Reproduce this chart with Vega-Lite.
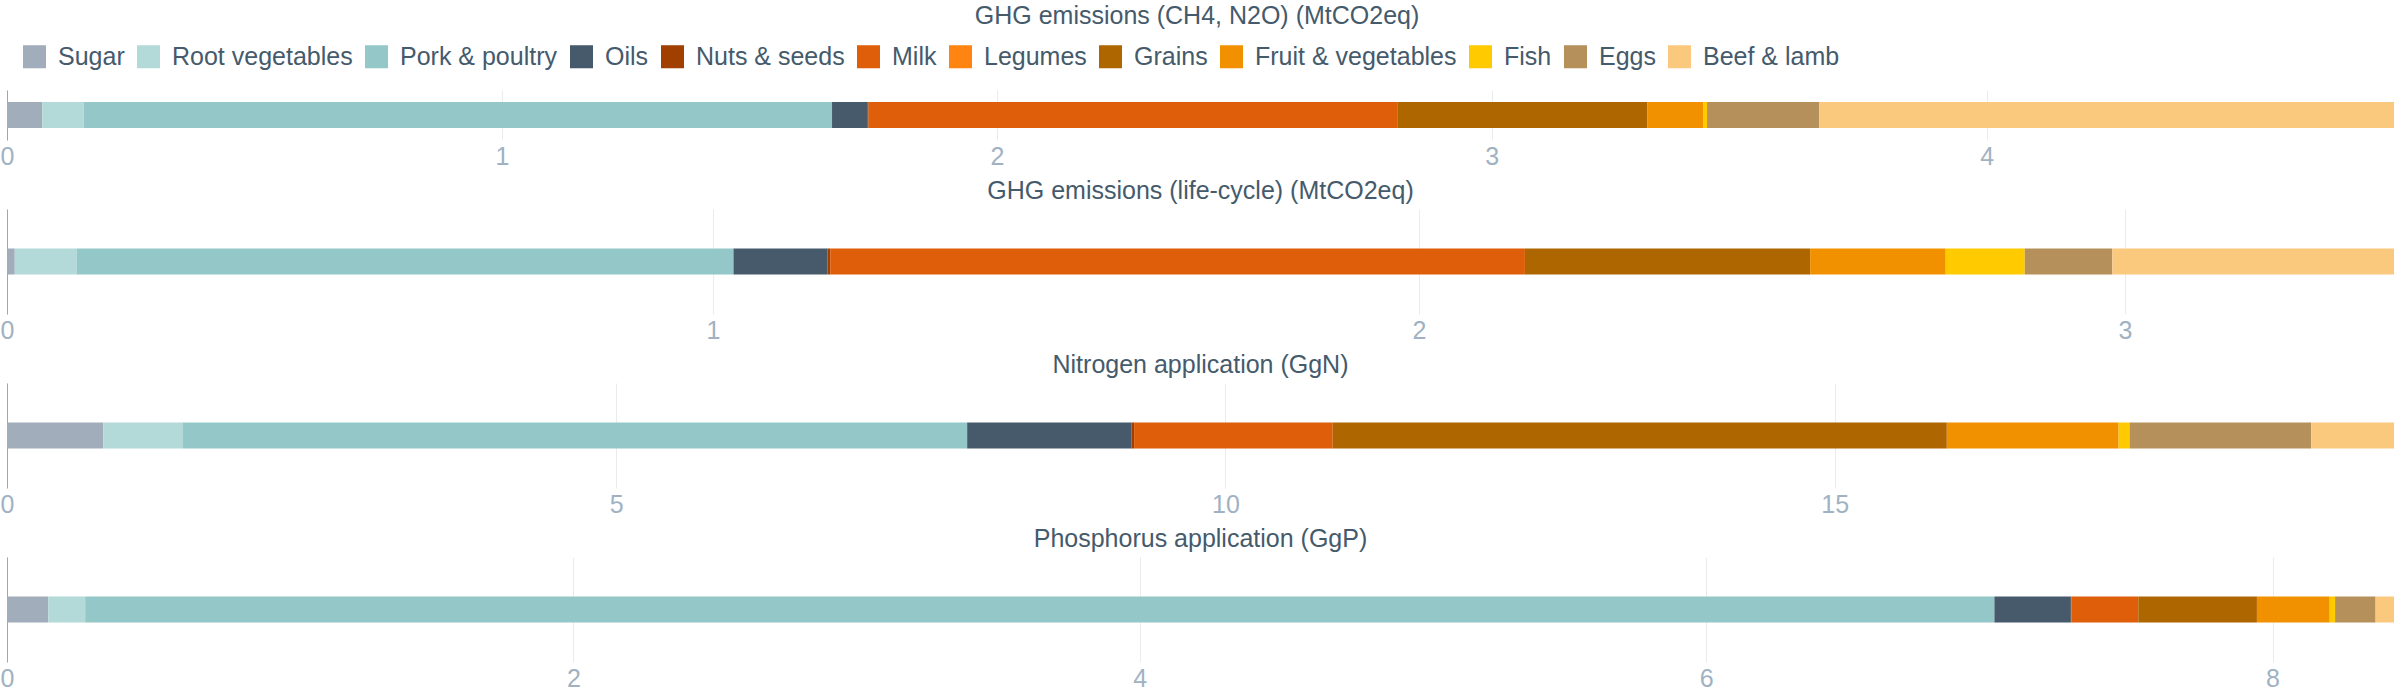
{
  "$schema": "https://vega.github.io/schema/vega-lite/v6.json",
  "padding": {"left": 0, "top": 4, "right": 5, "bottom": 5},
  "background": "white",
  "title": {"text": "GHG emissions (CH4, N2O) (MtCO2eq)", "anchor": "middle", "font": "Liberation Sans", "fontSize": 25, "fontWeight": "normal", "color": "#455a6b", "offset": 0},
  "datasets": {
    "categories": [
      {"category": "Sugar", "rank": 1},
      {"category": "Root vegetables", "rank": 2},
      {"category": "Pork & poultry", "rank": 3},
      {"category": "Oils", "rank": 4},
      {"category": "Nuts & seeds", "rank": 5},
      {"category": "Milk", "rank": 6},
      {"category": "Legumes", "rank": 7},
      {"category": "Grains", "rank": 8},
      {"category": "Fruit & vegetables", "rank": 9},
      {"category": "Fish", "rank": 10},
      {"category": "Eggs", "rank": 11},
      {"category": "Beef & lamb", "rank": 12}
    ],
    "food": [
      {"metric": "GHG emissions (CH4, N2O) (MtCO2eq)", "category": "Sugar", "value": 0.071},
      {"metric": "GHG emissions (CH4, N2O) (MtCO2eq)", "category": "Root vegetables", "value": 0.084},
      {"metric": "GHG emissions (CH4, N2O) (MtCO2eq)", "category": "Pork & poultry", "value": 1.512},
      {"metric": "GHG emissions (CH4, N2O) (MtCO2eq)", "category": "Oils", "value": 0.071},
      {"metric": "GHG emissions (CH4, N2O) (MtCO2eq)", "category": "Nuts & seeds", "value": 0.003},
      {"metric": "GHG emissions (CH4, N2O) (MtCO2eq)", "category": "Milk", "value": 1.068},
      {"metric": "GHG emissions (CH4, N2O) (MtCO2eq)", "category": "Legumes", "value": 0},
      {"metric": "GHG emissions (CH4, N2O) (MtCO2eq)", "category": "Grains", "value": 0.505},
      {"metric": "GHG emissions (CH4, N2O) (MtCO2eq)", "category": "Fruit & vegetables", "value": 0.113},
      {"metric": "GHG emissions (CH4, N2O) (MtCO2eq)", "category": "Fish", "value": 0.008},
      {"metric": "GHG emissions (CH4, N2O) (MtCO2eq)", "category": "Eggs", "value": 0.227},
      {"metric": "GHG emissions (CH4, N2O) (MtCO2eq)", "category": "Beef & lamb", "value": 1.161},
      {"metric": "GHG emissions (life-cycle) (MtCO2eq)", "category": "Sugar", "value": 0.011},
      {"metric": "GHG emissions (life-cycle) (MtCO2eq)", "category": "Root vegetables", "value": 0.088},
      {"metric": "GHG emissions (life-cycle) (MtCO2eq)", "category": "Pork & poultry", "value": 0.930},
      {"metric": "GHG emissions (life-cycle) (MtCO2eq)", "category": "Oils", "value": 0.133},
      {"metric": "GHG emissions (life-cycle) (MtCO2eq)", "category": "Nuts & seeds", "value": 0.004},
      {"metric": "GHG emissions (life-cycle) (MtCO2eq)", "category": "Milk", "value": 0.984},
      {"metric": "GHG emissions (life-cycle) (MtCO2eq)", "category": "Legumes", "value": 0},
      {"metric": "GHG emissions (life-cycle) (MtCO2eq)", "category": "Grains", "value": 0.404},
      {"metric": "GHG emissions (life-cycle) (MtCO2eq)", "category": "Fruit & vegetables", "value": 0.192},
      {"metric": "GHG emissions (life-cycle) (MtCO2eq)", "category": "Fish", "value": 0.112},
      {"metric": "GHG emissions (life-cycle) (MtCO2eq)", "category": "Eggs", "value": 0.124},
      {"metric": "GHG emissions (life-cycle) (MtCO2eq)", "category": "Beef & lamb", "value": 0.399},
      {"metric": "Nitrogen application (GgN)", "category": "Sugar", "value": 0.79},
      {"metric": "Nitrogen application (GgN)", "category": "Root vegetables", "value": 0.65},
      {"metric": "Nitrogen application (GgN)", "category": "Pork & poultry", "value": 6.44},
      {"metric": "Nitrogen application (GgN)", "category": "Oils", "value": 1.35},
      {"metric": "Nitrogen application (GgN)", "category": "Nuts & seeds", "value": 0.02},
      {"metric": "Nitrogen application (GgN)", "category": "Milk", "value": 1.63},
      {"metric": "Nitrogen application (GgN)", "category": "Legumes", "value": 0},
      {"metric": "Nitrogen application (GgN)", "category": "Grains", "value": 5.04},
      {"metric": "Nitrogen application (GgN)", "category": "Fruit & vegetables", "value": 1.41},
      {"metric": "Nitrogen application (GgN)", "category": "Fish", "value": 0.09},
      {"metric": "Nitrogen application (GgN)", "category": "Eggs", "value": 1.49},
      {"metric": "Nitrogen application (GgN)", "category": "Beef & lamb", "value": 0.68},
      {"metric": "Phosphorus application (GgP)", "category": "Sugar", "value": 0.146},
      {"metric": "Phosphorus application (GgP)", "category": "Root vegetables", "value": 0.130},
      {"metric": "Phosphorus application (GgP)", "category": "Pork & poultry", "value": 6.742},
      {"metric": "Phosphorus application (GgP)", "category": "Oils", "value": 0.270},
      {"metric": "Phosphorus application (GgP)", "category": "Nuts & seeds", "value": 0.002},
      {"metric": "Phosphorus application (GgP)", "category": "Milk", "value": 0.236},
      {"metric": "Phosphorus application (GgP)", "category": "Legumes", "value": 0},
      {"metric": "Phosphorus application (GgP)", "category": "Grains", "value": 0.419},
      {"metric": "Phosphorus application (GgP)", "category": "Fruit & vegetables", "value": 0.257},
      {"metric": "Phosphorus application (GgP)", "category": "Fish", "value": 0.019},
      {"metric": "Phosphorus application (GgP)", "category": "Eggs", "value": 0.143},
      {"metric": "Phosphorus application (GgP)", "category": "Beef & lamb", "value": 0.065}
    ]
  },
  "data": {"name": "food"},
  "spacing": 10,
  "vconcat": [
    {
      "width": 2387, "height": 50,
      "transform": [
        {"filter": "datum.metric === 'GHG emissions (CH4, N2O) (MtCO2eq)'"},
        {"lookup": "category", "from": {"data": {"name": "categories"}, "key": "category", "fields": ["rank"]}}
      ],
      "mark": {"type": "bar", "size": 26},
      "encoding": {
        "x": {"field": "value", "type": "quantitative", "stack": "zero", "scale": {"nice": false}, "axis": {"values": [0, 1, 2, 3, 4], "title": null}},
        "y": {"field": "metric", "type": "nominal", "axis": {"labels": false, "ticks": false, "title": null, "grid": false, "domain": true}},
        "color": {"field": "category", "type": "nominal", "scale": {"domain": ["Sugar", "Root vegetables", "Pork & poultry", "Oils", "Nuts & seeds", "Milk", "Legumes", "Grains", "Fruit & vegetables", "Fish", "Eggs", "Beef & lamb"], "range": ["#a1adba", "#b3dad9", "#94c8c8", "#465a6b", "#a03f00", "#de5e0a", "#ff8412", "#ae6600", "#f29100", "#ffca00", "#b5905a", "#fbc97e"]}, "legend": {"title": null}},
        "order": {"field": "rank", "type": "quantitative"}
      }
    },
    {
      "width": 2387, "height": 105,
      "title": "GHG emissions (life-cycle) (MtCO2eq)",
      "transform": [
        {"filter": "datum.metric === 'GHG emissions (life-cycle) (MtCO2eq)'"},
        {"lookup": "category", "from": {"data": {"name": "categories"}, "key": "category", "fields": ["rank"]}}
      ],
      "mark": {"type": "bar", "size": 26},
      "encoding": {
        "x": {"field": "value", "type": "quantitative", "stack": "zero", "scale": {"nice": false}, "axis": {"values": [0, 1, 2, 3], "title": null}},
        "y": {"field": "metric", "type": "nominal", "axis": {"labels": false, "ticks": false, "title": null, "grid": false, "domain": true}},
        "color": {"field": "category", "type": "nominal"},
        "order": {"field": "rank", "type": "quantitative"}
      }
    },
    {
      "width": 2387, "height": 105,
      "title": "Nitrogen application (GgN)",
      "transform": [
        {"filter": "datum.metric === 'Nitrogen application (GgN)'"},
        {"lookup": "category", "from": {"data": {"name": "categories"}, "key": "category", "fields": ["rank"]}}
      ],
      "mark": {"type": "bar", "size": 26},
      "encoding": {
        "x": {"field": "value", "type": "quantitative", "stack": "zero", "scale": {"nice": false}, "axis": {"values": [0, 5, 10, 15], "title": null}},
        "y": {"field": "metric", "type": "nominal", "axis": {"labels": false, "ticks": false, "title": null, "grid": false, "domain": true}},
        "color": {"field": "category", "type": "nominal"},
        "order": {"field": "rank", "type": "quantitative"}
      }
    },
    {
      "width": 2387, "height": 105,
      "title": "Phosphorus application (GgP)",
      "transform": [
        {"filter": "datum.metric === 'Phosphorus application (GgP)'"},
        {"lookup": "category", "from": {"data": {"name": "categories"}, "key": "category", "fields": ["rank"]}}
      ],
      "mark": {"type": "bar", "size": 26},
      "encoding": {
        "x": {"field": "value", "type": "quantitative", "stack": "zero", "scale": {"nice": false}, "axis": {"values": [0, 2, 4, 6, 8], "title": null}},
        "y": {"field": "metric", "type": "nominal", "axis": {"labels": false, "ticks": false, "title": null, "grid": false, "domain": true}},
        "color": {"field": "category", "type": "nominal"},
        "order": {"field": "rank", "type": "quantitative"}
      }
    }
  ],
  "config": {
    "view": {"stroke": null},
    "font": "Liberation Sans",
    "title": {"font": "Liberation Sans", "fontSize": 25, "fontWeight": "normal", "color": "#455a6b", "anchor": "middle", "offset": 5},
    "axis": {"labelFont": "Liberation Sans", "labelFontSize": 25, "labelColor": "#a0b2c2", "domainColor": "#9aa8b5", "gridColor": "#e9ecef", "tickColor": "#e9ecef"},
    "axisX": {"ticks": false, "domain": false, "grid": true, "labelPadding": 4, "labelFlush": false},
    "axisY": {"domainColor": "#9aa8b5"},
    "legend": {"orient": "top", "direction": "horizontal", "columns": 12, "symbolType": "square", "symbolSize": 530, "symbolStrokeWidth": 0, "symbolOpacity": 1, "labelFont": "Liberation Sans", "labelFontSize": 25, "labelColor": "#455a6b", "labelOffset": 11, "columnPadding": 11, "padding": 15, "offset": 5, "labelLimit": 400}
  }
}
